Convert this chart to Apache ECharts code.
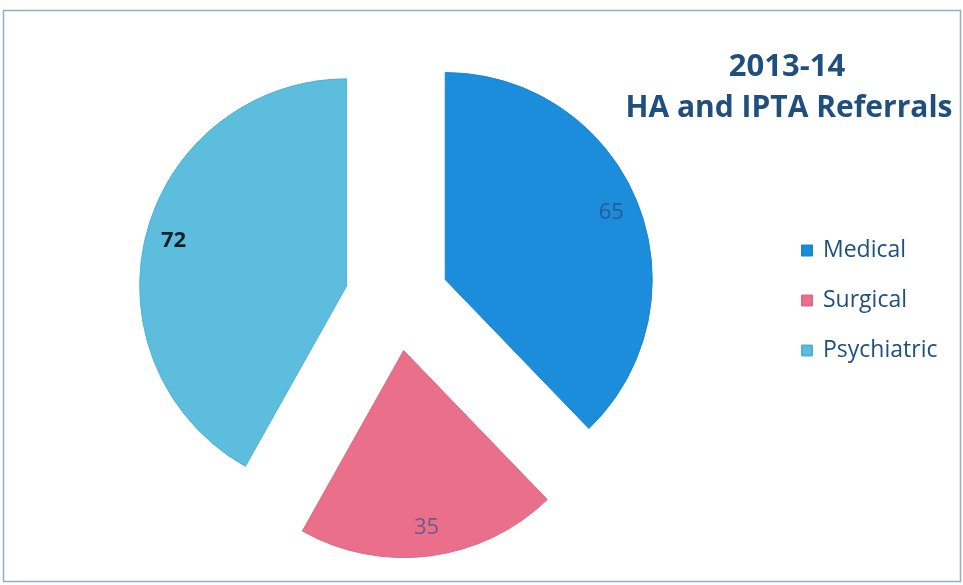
<!DOCTYPE html>
<html>
<head>
<meta charset="utf-8">
<script src="https://cdn.jsdelivr.net/npm/echarts@6/dist/echarts.min.js"></script>
<style>
  html, body { margin: 0; padding: 0; background: #ffffff; }
  #chart { width: 963px; height: 585px; }
</style>
</head>
<body>
<div id="chart"></div>
<script>
// Referral counts by category
const categories = ['Medical', 'Surgical', 'Psychiatric'];
const referrals = [65, 35, 72];
const titleLines = ['2013-14', 'HA and IPTA Referrals'];

// Look of each slice and its value label
const sliceColors = ['#1b8ddb', '#e96f8b', '#5cbddd'];
const sliceBorders = ['#1a86d0', '#df6a84', '#4fb2d4'];
const labelColors = ['#2b5a96', '#6c5c8c', '#16202c'];
const labelWeights = ['normal', 'normal', 'bold'];

const CENTER = [397, 299];
const RADIUS = 207;
const EXPLODE = 52;
const TEXT_BLUE = '#1f4f7e';
const FONT = '"Open Sans", "Liberation Sans", sans-serif';

const chart = echarts.init(document.getElementById('chart'), null, { renderer: 'canvas' });

const sliceData = categories.map((name, i) => ({
  name: name,
  value: referrals[i],
  selected: true,
  itemStyle: { color: sliceColors[i], borderColor: sliceBorders[i], borderWidth: 1 }
}));

// A transparent outer ring carries the value labels near the rim of each slice
const labelData = categories.map((name, i) => ({
  name: name,
  value: referrals[i],
  selected: true,
  itemStyle: { color: 'rgba(0,0,0,0)' },
  label: { color: labelColors[i], fontWeight: labelWeights[i] }
}));

chart.setOption({
  animation: false,
  backgroundColor: '#ffffff',
  legend: {
    orient: 'vertical',
    left: 796,
    top: 234,
    itemWidth: 10,
    itemHeight: 10,
    itemGap: 27,
    icon: 'rect',
    selectedMode: false,
    data: categories,
    textStyle: {
      color: TEXT_BLUE,
      fontFamily: FONT,
      fontSize: 23,
      lineHeight: 23,
      padding: [0, 0, 0, 6]
    }
  },
  graphic: [
    {
      type: 'rect',
      silent: true,
      shape: { x: 3.5, y: 10.5, width: 957, height: 571 },
      style: { fill: 'none', stroke: '#8fb0c8', lineWidth: 1.5 }
    },
    {
      type: 'text',
      x: 787, y: 67,
      style: {
        text: titleLines[0], fill: TEXT_BLUE, font: 'bold 31px ' + FONT,
        textAlign: 'center', textVerticalAlign: 'middle'
      }
    },
    {
      type: 'text',
      x: 789, y: 108,
      style: {
        text: titleLines[1], fill: TEXT_BLUE, font: 'bold 30px ' + FONT,
        textAlign: 'center', textVerticalAlign: 'middle'
      }
    }
  ],
  series: [
    {
      type: 'pie',
      center: CENTER,
      radius: RADIUS,
      startAngle: 90,
      clockwise: true,
      selectedMode: 'multiple',
      selectedOffset: EXPLODE,
      avoidLabelOverlap: false,
      silent: true,
      label: { show: false },
      labelLine: { show: false },
      emphasis: { disabled: true },
      data: sliceData
    },
    {
      type: 'pie',
      center: CENTER,
      radius: [145, RADIUS],
      startAngle: 90,
      clockwise: true,
      selectedMode: 'multiple',
      selectedOffset: EXPLODE,
      avoidLabelOverlap: false,
      silent: true,
      legendHoverLink: false,
      label: {
        show: true,
        position: 'inside',
        formatter: '{c}',
        fontFamily: FONT,
        fontSize: 22
      },
      labelLine: { show: false },
      emphasis: { disabled: true },
      data: labelData
    }
  ]
});
</script>
</body>
</html>
